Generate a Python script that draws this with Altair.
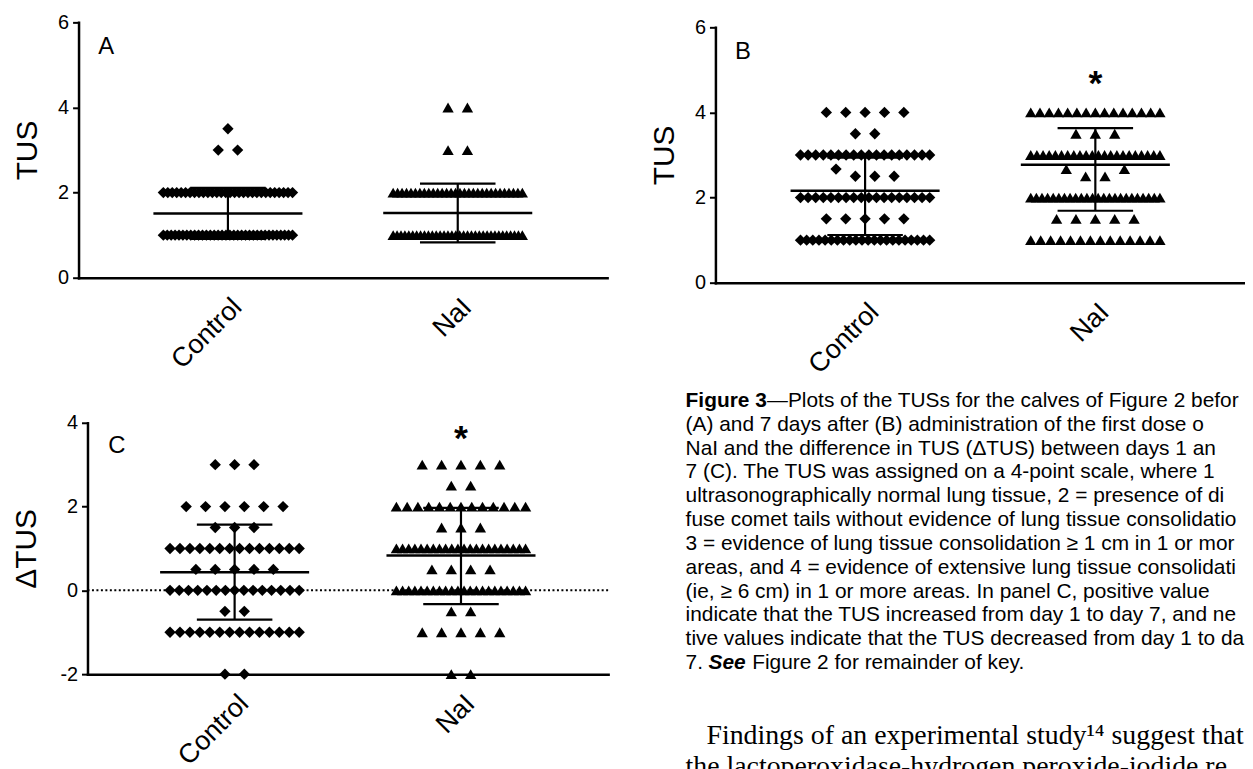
import altair as alt
import pandas as pd

FONT = "Liberation Sans"
CAP_FONT = "Liberation Sans"
BODY_FONT = "Liberation Serif"

groups = ["Control", "NaI"]
shapes = ["diamond", "triangle-up"]

# ---------------- data ----------------
# Panel A: TUS before treatment
a_levels_ctrl = [3.5, 3, 2, 1]
a_counts_ctrl = [1, 2, 30, 34]
a_levels_nai = [4, 3, 2, 1]
a_counts_nai = [2, 2, 30, 34]
a_mean = [1.51, 1.52]
a_low = [0.91, 0.83]
a_high = [2.11, 2.21]

# Panel B: TUS 7 days after
b_levels_ctrl = [4, 3.5, 3, 2.67, 2.5, 2, 1.5, 1]
b_counts_ctrl = [5, 2, 18, 1, 3, 18, 5, 22]
b_levels_nai = [4, 3.5, 3, 2.67, 2.5, 2, 1.5, 1]
b_counts_nai = [15, 3, 22, 2, 2, 24, 5, 14]
b_mean = [2.16, 2.77]
b_low = [1.12, 1.69]
b_high = [2.94, 3.63]

# Panel C: change in TUS
c_levels_ctrl = [3, 2, 1.5, 1, 0.5, 0, -0.5, -1, -2]
c_counts_ctrl = [3, 6, 3, 14, 5, 15, 2, 14, 2]
c_levels_nai = [3, 2.5, 2, 1.5, 1, 0.5, 0, -0.5, -1, -2]
c_counts_nai = [5, 2, 13, 3, 22, 4, 22, 2, 5, 2]
c_mean = [0.43, 0.83]
c_low = [-0.70, -0.33]
c_high = [1.57, 1.97]

y_ticks_ab = [0, 2, 4, 6]
y_ticks_c = [-2, 0, 2, 4]

# caption text, as far as it is visible in the cropped page
caption_first_bold = "Figure 3"
caption_first_rest = "\u2014Plots of the TUSs for the calves of Figure 2 befor"
caption_lines = [
    "(A) and 7 days after (B) administration of the first dose o",
    "NaI and the difference in TUS (\u0394TUS) between days 1 an",
    "7 (C). The TUS was assigned on a 4-point scale, where 1",
    "ultrasonographically normal lung tissue, 2 = presence of di",
    "fuse comet tails without evidence of lung tissue consolidatio",
    "3 = evidence of lung tissue consolidation \u2265 1 cm in 1 or mor",
    "areas, and 4 = evidence of extensive lung tissue consolidati",
    "(ie, \u2265 6 cm) in 1 or more areas. In panel C, positive value",
    "indicate that the TUS increased from day 1 to day 7, and ne",
    "tive values indicate that the TUS decreased from day 1 to da",
]
caption_last = ["7.", "See", "Figure 2 for remainder of key."]
body_lines = [
    "Findings of an experimental study\u00b9\u2074 suggest that",
    "the lactoperoxidase-hydrogen peroxide-iodide re",
]

# ---------------- layout / style constants ----------------
XDOM = [-0.65, 1.65]
STEP_PX = 19.5      # natural spacing between dots in a row
SPAN_PX = 130.0     # max spread of a row
MEAN_HALF_PX = 75.0
CAP_HALF_PX = 38.0


def dot_layout(levels, counts, center, ppu):
    rows = {}
    for v, n in zip(levels, counts):
        b = round(v * 2) / 2
        rows.setdefault(b, []).extend([v] * n)
    out = []
    for b, vals in rows.items():
        on = [v for v in vals if v == b]
        off = [v for v in vals if v != b]
        n = len(vals)
        order = [None] * n
        left, right = 0, n - 1
        for i, v in enumerate(off):
            if i % 2 == 0:
                order[left] = v
                left += 1
            else:
                order[right] = v
                right -= 1
        k = 0
        for i in range(n):
            if order[i] is None:
                order[i] = on[k]
                k += 1
        step = STEP_PX if n < 2 else min(STEP_PX, SPAN_PX / (n - 1))
        for i, v in enumerate(order):
            out.append((center + (i - (n - 1) / 2) * step / ppu, v))
    return out


def panel(letter, ytitle, sets, mean, low, high, ydomain, yticks, width, height,
          letter_xy, star_xy=None, xrange=None, yrange=None, axis_offset=0,
          title_pad=15, zero_line=False):
    span = (xrange[1] - xrange[0]) if xrange else width
    ppu = span / (XDOM[1] - XDOM[0])

    rows = []
    for gi, (levels, counts) in enumerate(sets):
        for x, y in dot_layout(levels, counts, gi, ppu):
            rows.append({"x": x, "y": y, "g": groups[gi]})
    pts = pd.DataFrame(rows)

    stats = pd.DataFrame({"gi": [0, 1], "mean": mean, "low": low, "high": high})
    stats["m1"] = stats["gi"] - MEAN_HALF_PX / ppu
    stats["m2"] = stats["gi"] + MEAN_HALF_PX / ppu
    caps = pd.DataFrame({
        "c1": list(stats["gi"] - CAP_HALF_PX / ppu) * 2,
        "c2": list(stats["gi"] + CAP_HALF_PX / ppu) * 2,
        "v": list(stats["low"]) + list(stats["high"]),
    })

    xs = alt.Scale(domain=XDOM, nice=False, zero=False, **({"range": xrange} if xrange else {}))
    ys = alt.Scale(domain=ydomain, nice=False, zero=False, **({"range": yrange} if yrange else {}))

    xaxis = alt.Axis(values=[0, 1], labelExpr="datum.value == 0 ? 'Control' : 'NaI'",
                     labelAngle=-45, labelAlign="right", labelBaseline="top",
                     labelFont=FONT, labelFontSize=27, labelColor="black", labelPadding=16,
                     ticks=False, tickSize=0, domainColor="black", domainWidth=2.5,
                     domainCap="square", grid=False, title=None, labelFlush=False,
                     labelOverlap=False)
    yaxis = alt.Axis(values=yticks, labelExpr="'' + datum.value", title=ytitle,
                     titleFont=FONT, titleFontSize=30, titleFontWeight="normal",
                     titleColor="black", titlePadding=title_pad,
                     labelFont=FONT, labelFontSize=20, labelColor="black", labelPadding=4,
                     tickColor="black", tickWidth=2, tickSize=6, domainColor="black",
                     domainWidth=2.5, domainCap="square", grid=False, offset=axis_offset,
                     labelFlush=False, labelOverlap=False)

    def X(f):
        return alt.X(f, type="quantitative", scale=xs, axis=xaxis)

    def Y(f):
        return alt.Y(f, type="quantitative", scale=ys, axis=yaxis)

    layers = []
    if zero_line:
        zl = pd.DataFrame({"x1": [XDOM[0]], "x2": [XDOM[1]], "y": [0]})
        layers.append(alt.Chart(zl).mark_rule(color="black", strokeWidth=2,
                                              strokeDash=[2, 2.5]).encode(
            x=X("x1"), x2="x2", y=Y("y")))
    layers.append(alt.Chart(pts).mark_point(filled=True, size=130, opacity=1,
                                            strokeWidth=0, color="black").encode(
        x=X("x"), y=Y("y"),
        shape=alt.Shape("g:N", scale=alt.Scale(domain=groups, range=shapes), legend=None)))
    layers.append(alt.Chart(stats).mark_rule(color="black", strokeWidth=2.5).encode(
        x=X("m1"), x2="m2", y=Y("mean")))
    layers.append(alt.Chart(caps).mark_rule(color="black", strokeWidth=2.2).encode(
        x=X("c1"), x2="c2", y=Y("v")))
    layers.append(alt.Chart(stats).mark_rule(color="black", strokeWidth=2.2).encode(
        x=X("gi"), y=Y("low"), y2="high"))
    lt = pd.DataFrame({"x": [letter_xy[0]], "y": [letter_xy[1]], "t": [letter]})
    layers.append(alt.Chart(lt).mark_text(font=FONT, fontSize=24, color="black",
                                          align="center", baseline="middle").encode(
        x=X("x"), y=Y("y"), text="t:N"))
    if star_xy is not None:
        st = pd.DataFrame({"x": [star_xy[0]], "y": [star_xy[1]], "t": ["*"]})
        layers.append(alt.Chart(st).mark_text(font=FONT, fontSize=36, fontWeight="bold",
                                              color="black", align="center",
                                              baseline="alphabetic").encode(
            x=X("x"), y=Y("y"), text="t:N"))
    return alt.layer(*layers).properties(width=width, height=height)


chart_a = panel("A", "TUS", [(a_levels_ctrl, a_counts_ctrl), (a_levels_nai, a_counts_nai)],
                a_mean, a_low, a_high, [0, 6], y_ticks_ab, 532, 257,
                letter_xy=(-0.53, 5.41), title_pad=15)
chart_b = panel("B", "TUS", [(b_levels_ctrl, b_counts_ctrl), (b_levels_nai, b_counts_nai)],
                b_mean, b_low, b_high, [0, 6], y_ticks_ab, 533, 262,
                letter_xy=(-0.53, 5.42), star_xy=(1, 4.42), yrange=[262, 5], title_pad=15)
chart_c = panel("C", "\u0394TUS", [(c_levels_ctrl, c_counts_ctrl), (c_levels_nai, c_counts_nai)],
                c_mean, c_low, c_high, [-2, 4], y_ticks_c, 533, 253,
                letter_xy=(-0.52, 3.45), star_xy=(1, 3.35), xrange=[9, 533],
                axis_offset=-9, title_pad=19, zero_line=True)

# ---------------- caption column ----------------
CAP_X = -30
CAP_Y0 = -22
CAP_LH = 24
CAP_SIZE = 21

cap_rows = [{"px": CAP_X + 82, "py": CAP_Y0, "t": caption_first_rest}]
for i, line in enumerate(caption_lines):
    cap_rows.append({"px": CAP_X, "py": CAP_Y0 + CAP_LH * (i + 1), "t": line})
last_y = CAP_Y0 + CAP_LH * (len(caption_lines) + 1)
cap_rows.append({"px": CAP_X, "py": last_y, "t": caption_last[0]})
cap_rows.append({"px": CAP_X + 67, "py": last_y, "t": caption_last[2]})
cap_df = pd.DataFrame(cap_rows)
bold_df = pd.DataFrame({"px": [CAP_X], "py": [CAP_Y0], "t": [caption_first_bold]})
bi_df = pd.DataFrame({"px": [CAP_X + 23], "py": [last_y], "t": [caption_last[1]]})
body_df = pd.DataFrame({"px": [-9, CAP_X], "py": [323, 354], "t": body_lines})


def text_layer(df, baseline="middle", **kw):
    return alt.Chart(df).mark_text(align="left", baseline=baseline, color="black", **kw).encode(
        x=alt.X("px:Q", scale=None, axis=None),
        y=alt.Y("py:Q", scale=None, axis=None),
        text="t:N")


chart_cap = alt.layer(
    text_layer(cap_df, font=CAP_FONT, fontSize=CAP_SIZE),
    text_layer(bold_df, font=CAP_FONT, fontSize=CAP_SIZE, fontWeight="bold"),
    text_layer(bi_df, font=CAP_FONT, fontSize=CAP_SIZE, fontWeight="bold", fontStyle="italic"),
    text_layer(body_df, baseline="alphabetic", font=BODY_FONT, fontSize=28),
).properties(width=533, height=253)

chart = alt.concat(
    chart_a, chart_b, chart_c, chart_cap,
    columns=2, bounds="flush", spacing={"row": 141, "column": 108},
).properties(
    autosize=alt.AutoSizeParams(type="none"),
    padding={"left": 71, "top": 12, "right": 1174, "bottom": 749},
    background="white",
).configure_view(stroke=None)

chart.save("out.html", embed_options={"renderer": "svg", "actions": False})
